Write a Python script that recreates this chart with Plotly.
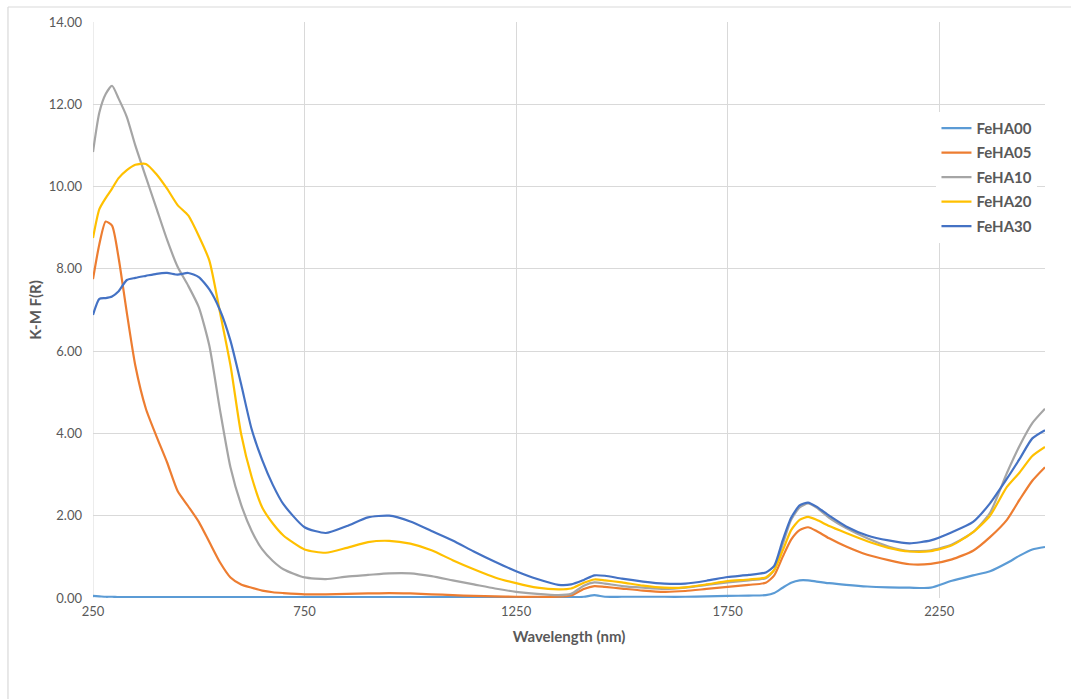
import plotly.graph_objects as go

# Wavelength grid (nm)
wavelength = [250, 265, 280, 295, 310, 330, 350, 375, 400, 425, 450, 475, 500, 525, 550,
              575, 600, 625, 650, 675, 700, 750, 800, 850, 900, 950, 1000, 1050, 1100,
              1150, 1200, 1250, 1300, 1350, 1380, 1410, 1435, 1460, 1500, 1550, 1600,
              1650, 1700, 1750, 1800, 1840, 1860, 1880, 1900, 1920, 1940, 1960, 1990,
              2030, 2080, 2130, 2180, 2230, 2280, 2330, 2370, 2410, 2440, 2470, 2500]

# Kubelka-Munk F(R) per sample
feha00 = [0.05, 0.04, 0.03, 0.03, 0.02, 0.02, 0.02, 0.02, 0.02, 0.02, 0.02, 0.02, 0.02, 0.02, 0.02,
          0.02, 0.02, 0.02, 0.02, 0.02, 0.02, 0.02, 0.02, 0.02, 0.02, 0.02, 0.02, 0.02, 0.02,
          0.02, 0.02, 0.02, 0.02, 0.02, 0.02, 0.03, 0.07, 0.03, 0.03, 0.03, 0.03,
          0.03, 0.04, 0.05, 0.06, 0.07, 0.12, 0.25, 0.37, 0.43, 0.43, 0.40, 0.36,
          0.32, 0.28, 0.26, 0.25, 0.25, 0.42, 0.55, 0.65, 0.85, 1.03, 1.18, 1.24]

feha05 = [7.75, 8.60, 9.15, 9.05, 8.30, 6.93, 5.65, 4.60, 3.93, 3.30, 2.60, 2.23, 1.85, 1.36, 0.87,
          0.50, 0.33, 0.25, 0.18, 0.14, 0.12, 0.09, 0.09, 0.10, 0.11, 0.12, 0.11, 0.09, 0.07,
          0.05, 0.04, 0.03, 0.03, 0.03, 0.06, 0.22, 0.29, 0.27, 0.23, 0.18, 0.15,
          0.17, 0.22, 0.27, 0.32, 0.37, 0.55, 1.00, 1.42, 1.65, 1.72, 1.63, 1.45,
          1.25, 1.05, 0.92, 0.82, 0.83, 0.94, 1.15, 1.48, 1.90, 2.39, 2.85, 3.18]

feha10 = [10.84, 11.80, 12.25, 12.45, 12.15, 11.69, 11.00, 10.23, 9.47, 8.71, 8.05, 7.59, 7.07, 6.13, 4.58,
          3.17, 2.27, 1.63, 1.18, 0.90, 0.70, 0.50, 0.46, 0.52, 0.56, 0.60, 0.60, 0.53, 0.43,
          0.33, 0.23, 0.15, 0.10, 0.07, 0.10, 0.30, 0.38, 0.35, 0.29, 0.25, 0.22,
          0.25, 0.32, 0.38, 0.43, 0.48, 0.68, 1.30, 1.90, 2.20, 2.30, 2.20, 1.95,
          1.70, 1.45, 1.25, 1.14, 1.16, 1.30, 1.60, 2.07, 3.04, 3.70, 4.25, 4.60]

feha20 = [8.75, 9.45, 9.72, 9.95, 10.20, 10.40, 10.53, 10.55, 10.30, 9.95, 9.55, 9.30, 8.80, 8.20, 6.95,
          5.65, 3.99, 2.94, 2.20, 1.81, 1.52, 1.18, 1.10, 1.22, 1.36, 1.39, 1.32, 1.16, 0.92,
          0.70, 0.50, 0.36, 0.25, 0.21, 0.23, 0.37, 0.45, 0.43, 0.38, 0.30, 0.25,
          0.26, 0.33, 0.41, 0.45, 0.50, 0.68, 1.15, 1.65, 1.90, 1.97, 1.90, 1.75,
          1.58, 1.38, 1.22, 1.13, 1.14, 1.28, 1.60, 2.00, 2.70, 3.05, 3.45, 3.67]

feha30 = [6.88, 7.27, 7.29, 7.33, 7.45, 7.73, 7.78, 7.83, 7.88, 7.90, 7.86, 7.90, 7.80, 7.50, 7.00,
          6.25, 5.20, 4.10, 3.35, 2.75, 2.28, 1.72, 1.58, 1.75, 1.96, 2.00, 1.86, 1.63, 1.40,
          1.13, 0.88, 0.65, 0.46, 0.32, 0.33, 0.44, 0.55, 0.54, 0.47, 0.40, 0.35,
          0.35, 0.42, 0.51, 0.56, 0.62, 0.78, 1.40, 1.95, 2.25, 2.32, 2.22, 2.00,
          1.74, 1.52, 1.40, 1.33, 1.40, 1.60, 1.85, 2.30, 2.90, 3.38, 3.88, 4.08]

series_names = ["FeHA00", "FeHA05", "FeHA10", "FeHA20", "FeHA30"]
series_values = [feha00, feha05, feha10, feha20, feha30]
series_colors = ["#5B9BD5", "#ED7D31", "#A5A5A5", "#FFC000", "#4472C4"]

x_ticks = [250, 750, 1250, 1750, 2250]
y_ticks = [0, 2, 4, 6, 8, 10, 12, 14]

FONT = "Lato, 'Open Sans', sans-serif"
TEXT = "#595959"
GRID = "#D9D9D9"

fig = go.Figure()
for name, vals, col in zip(series_names, series_values, series_colors):
    fig.add_trace(go.Scatter(
        x=wavelength, y=vals, name=name, mode="lines",
        line=dict(color=col, width=2.2, shape="spline", smoothing=0.6),
        legendgroup=name,
    ))

fig.update_layout(
    width=1071, height=699,
    margin=dict(l=93, r=26, t=22, b=101),
    paper_bgcolor="white", plot_bgcolor="white",
    font=dict(family=FONT, color=TEXT, size=12),
    showlegend=True,
    legend=dict(
        x=0.886, y=0.844, xanchor="left", yanchor="top",
        bgcolor="white", borderwidth=0,
        font=dict(family=FONT, size=15, color=TEXT, weight="bold"),
        tracegroupgap=2, itemwidth=30,
    ),
    xaxis=dict(
        range=[250, 2500], tickmode="array", tickvals=x_ticks,
        ticktext=[str(v) for v in x_ticks],
        showgrid=True, gridcolor=GRID, gridwidth=1,
        showline=False, zeroline=False, ticks="",
        ticklabelstandoff=4,
        tickfont=dict(size=13, color=TEXT),
        title=dict(text="Wavelength (nm)", standoff=13,
                   font=dict(size=15, color=TEXT, family=FONT, weight="bold")),
    ),
    yaxis=dict(
        range=[0, 14], tickmode="array", tickvals=y_ticks,
        ticktext=[f"{v:.2f}" for v in y_ticks],
        showgrid=True, gridcolor=GRID, gridwidth=1,
        showline=False, zeroline=False, ticks="",
        ticklabelstandoff=10,
        tickfont=dict(size=13, color=TEXT),
        title=dict(text="K-M F(R)", standoff=3,
                   font=dict(size=15, color=TEXT, family=FONT, weight="bold")),
    ),
)

# Chart frame along the top and left edges of the figure
fig.add_shape(type="line", xref="paper", yref="paper", x0=-0.0893, x1=1.05,
              y0=1.026, y1=1.026, line=dict(color=GRID, width=1.2), layer="below")
fig.add_shape(type="line", xref="paper", yref="paper", x0=-0.0893, x1=-0.0893,
              y0=1.026, y1=-0.2, line=dict(color=GRID, width=1.2), layer="below")
# Left edge gridline at 250 nm
fig.add_shape(type="line", xref="x", yref="paper", x0=250, x1=250, y0=0, y1=1,
              line=dict(color=GRID, width=1), layer="below")

fig.write_html("out.html")
